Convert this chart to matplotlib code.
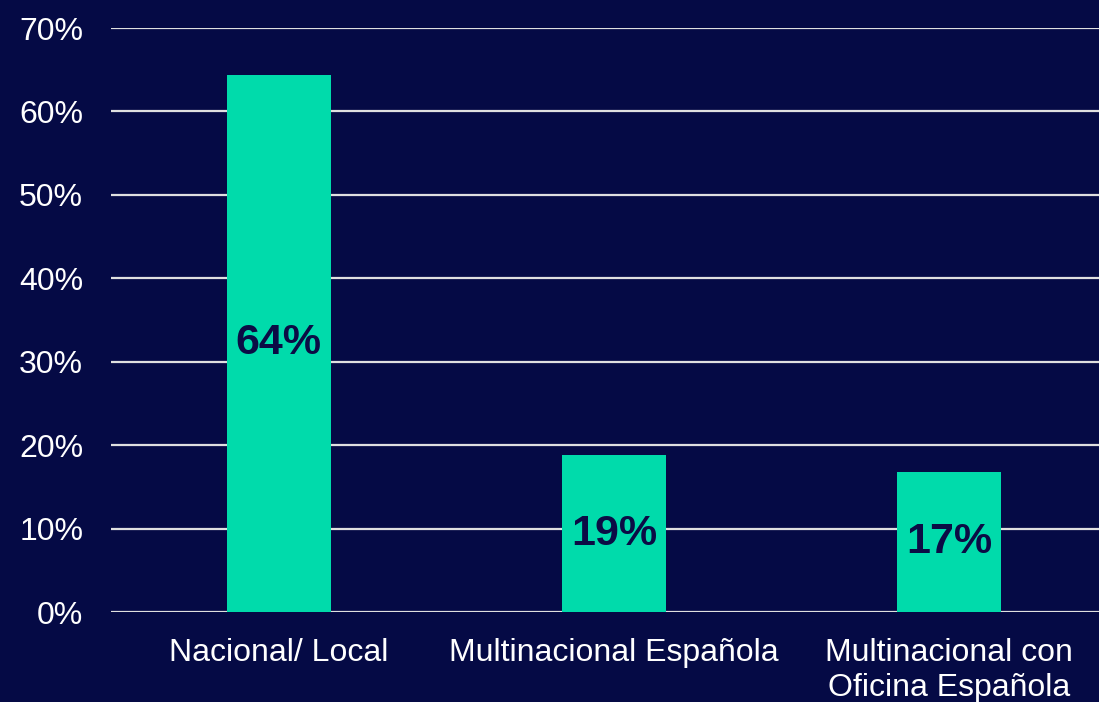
# bar chart: tipo de empresa

import matplotlib.pyplot as plt
import matplotlib.ticker as mticker

categories = ["Nacional/ Local", "Multinacional Española", "Multinacional con\nOficina Española"]
values = [64.4, 18.8, 16.8]
labels = ["64%", "19%", "17%"]
yticks = [0, 10, 20, 30, 40, 50, 60, 70]

bg = "#050a45"
bar_color = "#00dbab"
label_color = "#0b0c45"

plt.rcParams['font.family'] = ['Liberation Sans', 'DejaVu Sans']

fig = plt.figure(figsize=(10.99, 7.02), dpi=100, facecolor=bg)
ax = fig.add_axes([111/1099, 90/702, 1006/1099, 584/702], facecolor=bg)

x = range(len(categories))
ax.bar(x, values, width=0.31, color=bar_color, zorder=3)
for i, (v, lab) in enumerate(zip(values, labels)):
    ax.text(i, v / 2, lab, ha='center', va='center', fontsize=31,
            fontweight='bold', color=label_color, zorder=4)

ax.set_xlim(-0.5, 2.5)
ax.set_ylim(0, 70)
ax.set_yticks(yticks)
ax.yaxis.set_major_formatter(mticker.FuncFormatter(lambda v, p: f"{int(v)}%"))
ax.set_xticks(list(x))
ax.set_xticklabels(categories, linespacing=1.2)
ax.tick_params(axis='y', length=0, pad=20, labelsize=23, labelcolor='white')
ax.tick_params(axis='x', length=0, pad=19, labelsize=23, labelcolor='white')
ax.grid(axis='y', color='#e0e0e0', linewidth=1.6, zorder=1)
ax.set_axisbelow(True)
for s in ax.spines.values():
    s.set_visible(False)

plt.savefig("out.png", dpi=100, facecolor=bg)
